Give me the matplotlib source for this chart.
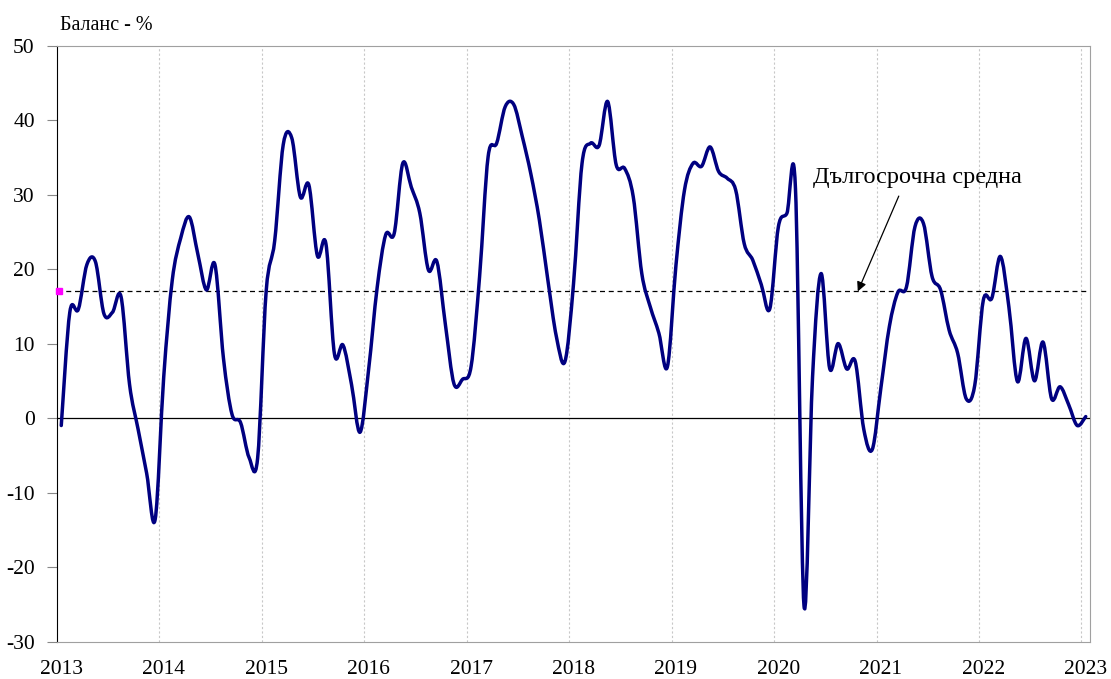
import numpy as np
import matplotlib
matplotlib.use("Agg")
from matplotlib import pyplot as plt
from matplotlib.path import Path
from matplotlib.patches import PathPatch

plt.rcParams["font.family"] = ["Liberation Serif", "DejaVu Serif"]
plt.rcParams["axes.unicode_minus"] = False

# monthly balance, Jan 2013 .. Jan 2023
balance = [
    -1.0, 14.2, 14.6, 20.6, 21.0, 14.0, 14.2, 16.3, 4.5, -1.5, -7.4, -13.6,   # 2013
    5.5, 18.5, 24.2, 27.0, 22.0, 17.2, 20.6, 8.0, 0.5, -0.6, -5.3, -5.4,      # 2014
    17.0, 23.8, 36.7, 37.6, 29.7, 31.3, 21.8, 23.4, 8.6, 9.8, 4.5, -1.9,      # 2015
    6.5, 17.5, 24.6, 24.8, 34.2, 31.0, 27.5, 19.9, 21.0, 12.5, 4.6, 5.2,      # 2016
    6.9, 19.0, 35.1, 36.9, 41.8, 42.1, 37.8, 32.8, 26.6, 18.5, 10.9, 7.6,     # 2017
    18.0, 34.2, 36.9, 36.6, 42.5, 34.0, 33.5, 29.7, 19.4, 14.9, 11.4, 6.9,    # 2018
    20.5, 30.6, 34.2, 33.8, 36.4, 33.1, 32.2, 30.6, 23.4, 21.2, 17.9, 14.7,   # 2019
    25.7, 27.5, 30.8, -25.2, 5.5, 19.4, 6.7, 10.0, 6.6, 7.6, -1.5, -4.2,      # 2020
    4.0, 12.3, 16.9, 17.6, 25.7, 26.1, 19.0, 17.2, 11.8, 8.7, 2.6, 4.4,       # 2021
    15.8, 16.1, 21.7, 14.9, 4.9, 10.7, 5.0, 10.2, 2.6, 4.2, 1.8, -1.0,        # 2022
    0.2,                                                                      # 2023
]
long_term_avg = 17.0
years = [str(y) for y in range(2013, 2024)]
y_ticks = [-30, -20, -10, 0, 10, 20, 30, 40, 50]


def smooth_path(xs, ys):
    # excel-like smoothed line: catmull-rom as cubic bezier segments
    pts = np.column_stack([xs, ys]).astype(float)
    ext = np.vstack([pts[0], pts, pts[-1]])
    verts = [pts[0]]
    codes = [Path.MOVETO]
    for i in range(len(pts) - 1):
        p0, p1, p2, p3 = ext[i], ext[i + 1], ext[i + 2], ext[i + 3]
        c1 = p1 + (p2 - p0) / 6.0
        c2 = p2 - (p3 - p1) / 6.0
        verts += [c1, c2, p2]
        codes += [Path.CURVE4] * 3
    return Path(verts, codes)


fig = plt.figure(figsize=(11.11, 6.79), dpi=100)
ax = fig.add_axes([0.0513, 0.0552, 0.9298, 0.8776])

n = len(balance)
x = np.arange(n)

for k in range(1, 11):
    ax.axvline(12 * k - 0.5, color="#c8c8c8", linestyle=(0, (2, 2)), linewidth=0.8, zorder=1)

ax.axhline(0, color="black", linewidth=0.9, zorder=2)
ax.axhline(long_term_avg, color="black", linestyle=(0, (4, 3)), linewidth=0.9, zorder=2)
ax.plot([-0.3], [long_term_avg], marker="s", markersize=4, color="magenta",
        clip_on=False, zorder=4)

ax.add_patch(PathPatch(smooth_path(x, balance), facecolor="none", edgecolor="#000080",
                       linewidth=2.5, capstyle="round", joinstyle="round", zorder=3))

ax.set_xlim(-0.5, n - 0.5)
ax.set_ylim(-30, 50)
ax.set_xticks(range(0, n, 12))
ax.set_xticklabels(years)
ax.set_yticks(y_ticks)
ax.tick_params(axis="x", length=0, pad=13, labelsize=15.5)
ax.tick_params(axis="y", length=7, color="#888888", pad=9, labelsize=15.5)

for s in ["top", "right", "bottom"]:
    ax.spines[s].set_color("#a0a0a0")
ax.spines["left"].set_color("black")

fig.text(0.054, 0.962, "Баланс - %", fontsize=14.5, va="center", ha="left")

ax.text(100.3, 32.3, "Дългосрочна средна", fontsize=17.5, ha="center", va="center")
ax.annotate("", xy=(93.3, long_term_avg), xytext=(98.1, 29.8),
            arrowprops=dict(arrowstyle="-|>", color="black", lw=0.9,
                            mutation_scale=14, shrinkA=0, shrinkB=0))

fig.savefig("out.png", dpi=100)
